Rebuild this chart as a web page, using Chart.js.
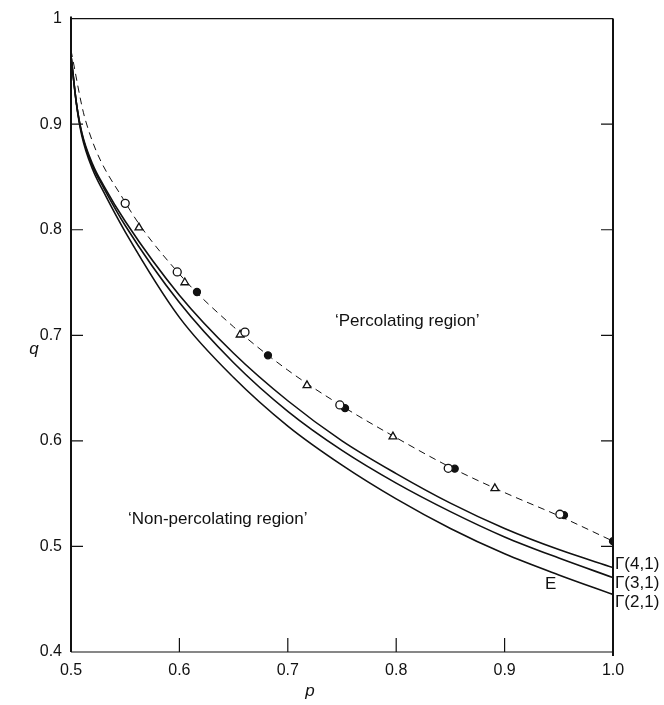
<!DOCTYPE html>
<html lang="en">
<head>
    <meta charset="UTF-8" />
    <title>Percolation boundary q(p)</title>
    <script src="https://cdn.jsdelivr.net/npm/chart.js"></script>
    <style>
        html, body { margin: 0; padding: 0; background: #fff; }
        #wrap { width: 664px; height: 705px; position: relative; }
    </style>
</head>
<body>
<div id="wrap"><canvas id="chart"></canvas></div>
<script>
    // solid curves, sampled at pGrid
    const pGrid = [0.5, 0.505, 0.51, 0.52, 0.53, 0.55, 0.6, 0.65, 0.7, 0.75, 0.8, 0.85, 0.9, 0.95, 1.0];
    const gamma41 = [0.965, 0.920, 0.892, 0.862, 0.842, 0.808, 0.738, 0.683, 0.638, 0.600, 0.569, 0.541, 0.517, 0.497, 0.480];
    const gamma31 = [0.965, 0.920, 0.891, 0.860, 0.840, 0.804, 0.731, 0.674, 0.628, 0.591, 0.560, 0.533, 0.509, 0.489, 0.4705];
    const gamma21 = [0.965, 0.919, 0.889, 0.857, 0.836, 0.798, 0.717, 0.660, 0.614, 0.577, 0.545, 0.517, 0.493, 0.473, 0.4545];

    // dashed curve through the simulation points
    const pDash = [0.5, 0.513, 0.55, 0.6, 0.65, 0.7, 0.75, 0.8, 0.85, 0.9, 0.95, 1.0];
    const qDash = [0.97, 0.905, 0.826, 0.758, 0.708, 0.667, 0.633, 0.603, 0.575, 0.551, 0.529, 0.505];

    // simulation points
    const pOpen = [0.55, 0.598, 0.6605, 0.748, 0.848, 0.951];
    const qOpen = [0.825, 0.760, 0.703, 0.634, 0.574, 0.5305];
    const pTri = [0.5627, 0.605, 0.656, 0.7177, 0.797, 0.891];
    const qTri = [0.802, 0.750, 0.7005, 0.6526, 0.604, 0.555];
    const pFilled = [0.6162, 0.6817, 0.7528, 0.854, 0.9548, 1.0];
    const qFilled = [0.741, 0.681, 0.631, 0.5737, 0.5296, 0.505];

    const xTicks = [0.5, 0.6, 0.7, 0.8, 0.9, 1.0];
    const yTicks = [0.4, 0.5, 0.6, 0.7, 0.8, 0.9, 1.0];

    const toXY = (ps, qs) => ps.map((p, i) => ({ x: p, y: qs[i] }));
    const FONT = "'Liberation Sans', 'DejaVu Sans', sans-serif";

    // frame, inward ticks and in-plot labels
    const decor = {
        id: "decor",
        afterDraw(chart) {
            const { ctx, chartArea: a, scales } = chart;
            const xs = scales.x, ys = scales.y;
            ctx.save();
            ctx.strokeStyle = "#111";
            ctx.lineWidth = 1.2;
            ctx.beginPath();
            ctx.moveTo(a.left, a.top); ctx.lineTo(a.right, a.top);
            ctx.moveTo(a.left, a.bottom); ctx.lineTo(a.right, a.bottom);
            ctx.stroke();
            ctx.lineWidth = 2;
            ctx.beginPath();
            ctx.moveTo(a.left, a.top - 2); ctx.lineTo(a.left, a.bottom);
            ctx.moveTo(a.right, a.top); ctx.lineTo(a.right, a.bottom + 4);
            ctx.stroke();

            ctx.lineWidth = 1.2;
            ctx.beginPath();
            yTicks.slice(1, -1).forEach(v => {
                const y = ys.getPixelForValue(v);
                ctx.moveTo(a.left, y); ctx.lineTo(a.left + 12, y);
                ctx.moveTo(a.right, y); ctx.lineTo(a.right - 12, y);
            });
            xTicks.slice(1, -1).forEach(v => {
                const x = xs.getPixelForValue(v);
                ctx.moveTo(x, a.bottom); ctx.lineTo(x, a.bottom - 14);
            });
            ctx.stroke();

            ctx.fillStyle = "#111";
            ctx.textBaseline = "middle";
            ctx.font = "17px " + FONT;
            ctx.textAlign = "left";
            ctx.fillText("\u2018Percolating region\u2019", 335, 321);
            ctx.fillText("\u2018Non-percolating region\u2019", 128, 519);
            ctx.fillText("\u0393(4,1)", a.right + 2, 564);
            ctx.fillText("\u0393(3,1)", a.right + 2, 583);
            ctx.fillText("\u0393(2,1)", a.right + 2, 602);
            ctx.fillText("E", 545, 584);

            ctx.font = "italic 17px " + FONT;
            ctx.textAlign = "center";
            ctx.fillText("q", 34, 349);
            ctx.fillText("p", 310, 691);
            ctx.restore();
        }
    };

    const curve = (data, dash, width) => ({
        type: "line",
        data: data,
        borderColor: "#111",
        borderWidth: width,
        borderDash: dash,
        pointRadius: 0,
        fill: false,
        cubicInterpolationMode: "monotone"
    });

    const marks = (data, style, radius, bg) => ({
        type: "scatter",
        data: data,
        pointStyle: style,
        pointRadius: radius,
        pointBackgroundColor: bg,
        pointBorderColor: "#111",
        pointBorderWidth: 1.3,
        showLine: false
    });

    new Chart(document.getElementById("chart"), {
        type: "scatter",
        data: {
            datasets: [
                marks(toXY(pOpen, qOpen), "circle", 4, "#fff"),
                marks(toXY(pTri, qTri), "triangle", 4.5, "#fff"),
                marks(toXY(pFilled, qFilled), "circle", 3.5, "#111"),
                curve(toXY(pDash, qDash), [7, 5], 1),
                curve(toXY(pGrid, gamma41), [], 1.6),
                curve(toXY(pGrid, gamma31), [], 1.6),
                curve(toXY(pGrid, gamma21), [], 1.6)
            ]
        },
        options: {
            responsive: true,
            maintainAspectRatio: false,
            animation: false,
            layout: { padding: { top: 13, right: 51, bottom: 0, left: 0 } },
            plugins: { legend: { display: false }, tooltip: { enabled: false } },
            scales: {
                x: {
                    type: "linear",
                    min: 0.5, max: 1.0,
                    grid: { display: false, drawTicks: false },
                    border: { display: false },
                    afterFit: s => { s.height = 53; },
                    afterBuildTicks: s => { s.ticks = xTicks.map(v => ({ value: v })); },
                    ticks: {
                        padding: 9,
                        color: "#111",
                        font: { family: FONT, size: 16 },
                        callback: v => v.toFixed(1)
                    }
                },
                y: {
                    type: "linear",
                    min: 0.4, max: 1.0,
                    grid: { display: false, drawTicks: false },
                    border: { display: false },
                    afterFit: s => { s.width = 71; },
                    afterBuildTicks: s => { s.ticks = yTicks.map(v => ({ value: v })); },
                    ticks: {
                        padding: 9,
                        color: "#111",
                        font: { family: FONT, size: 16 },
                        callback: v => (v > 0.999 ? "1" : v.toFixed(1))
                    }
                }
            }
        },
        plugins: [decor]
    });
</script>
</body>
</html>
